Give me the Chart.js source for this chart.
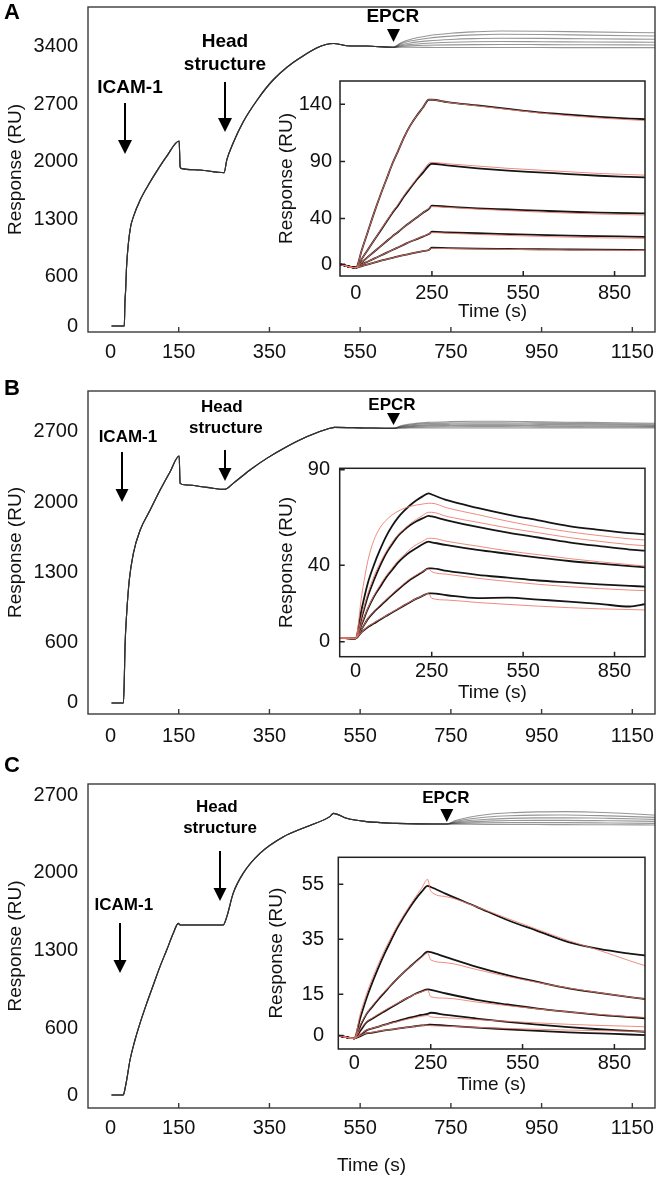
<!DOCTYPE html>
<html>
<head>
<meta charset="utf-8">
<script src="https://cdn.jsdelivr.net/npm/chart.js@4.4.1/dist/chart.umd.min.js"></script>
<style>
  body { margin: 0; background: #fff; width: 660px; height: 1179px; position: relative; overflow: hidden; }
  canvas { position: absolute; }
  .tag { position: absolute; left: 4px; font: bold 22px "Liberation Sans", Arial, sans-serif; line-height: 22px; color: #000; }
</style>
</head>
<body>
<canvas id="mainA" width="660" height="375" style="left:0;top:0"></canvas>
<canvas id="mainB" width="660" height="375" style="left:0;top:380px"></canvas>
<canvas id="mainC" width="660" height="419" style="left:0;top:760px"></canvas>
<canvas id="insetA" width="398" height="260" style="left:262px;top:70px"></canvas>
<canvas id="insetB" width="398" height="260" style="left:262px;top:455px"></canvas>
<canvas id="insetC" width="405" height="260" style="left:255px;top:845px"></canvas>
<div class="tag" style="top:1px">A</div>
<div class="tag" style="top:377px">B</div>
<div class="tag" style="top:754px">C</div>
<script>
const FONT = '"Liberation Sans", Arial, sans-serif';
Chart.defaults.font.family = FONT;
Chart.defaults.color = '#111';

// ---- main sensorgrams: time (s) / response (RU)
const mainXTicks = [0, 150, 350, 550, 750, 950, 1150];
const mainXMarks = [150, 350, 550, 750, 950, 1150];

// panel A
const aTimes = [2, 30, 31.5, 33, 35, 39, 44, 50, 65, 83, 101, 123, 151, 153, 155, 197, 250, 256, 270, 292, 323, 358, 417, 491, 520, 564, 623];
const aResp  = [0, 0, 300, 440, 720, 1005, 1210, 1330, 1535, 1717, 1880, 2062, 2253, 1940, 1920, 1900, 1867, 2022, 2229, 2485, 2753, 2996, 3264, 3441, 3414, 3410, 3394];
const aEpcrTimes = [623, 640, 660, 700, 750, 800, 860, 950, 1050, 1200];
const aEpcr1 = [3394, 3450, 3490, 3535, 3565, 3582, 3593, 3590, 3582, 3572];
const aEpcr2 = [3394, 3438, 3470, 3505, 3530, 3545, 3553, 3550, 3543, 3532];
const aEpcr3 = [3394, 3425, 3447, 3472, 3490, 3500, 3505, 3503, 3498, 3492];
const aEpcr4 = [3394, 3414, 3428, 3444, 3455, 3461, 3464, 3462, 3459, 3456];
const aEpcr5 = [3394, 3404, 3411, 3419, 3424, 3427, 3428, 3427, 3425, 3423];
const aEpcr6 = [3394, 3395, 3394, 3393, 3392, 3392, 3391, 3391, 3390, 3390];
const aYTicks = [0, 600, 1300, 2000, 2700, 3400];

// panel B
const bTimes = [2, 28, 30, 31.6, 35.3, 41, 50, 65, 87, 109, 131, 151, 153, 167, 212, 252, 270, 307, 344, 388, 432, 483, 494, 560, 623];
const bResp  = [0, 0, 229, 561, 893, 1225, 1491, 1723, 1922, 2121, 2304, 2460, 2188, 2171, 2148, 2128, 2188, 2321, 2437, 2553, 2652, 2736, 2746, 2740, 2736];
const bEpcrTimes = [623, 640, 660, 700, 750, 800, 860, 950, 1050, 1200];
const bEpcr1 = [2736, 2762, 2778, 2795, 2803, 2806, 2806, 2800, 2795, 2786];
const bEpcr2 = [2736, 2757, 2770, 2783, 2789, 2792, 2792, 2788, 2783, 2776];
const bEpcr3 = [2736, 2752, 2761, 2771, 2776, 2778, 2778, 2775, 2771, 2766];
const bEpcr4 = [2736, 2747, 2754, 2761, 2764, 2766, 2766, 2763, 2760, 2756];
const bEpcr5 = [2736, 2742, 2746, 2750, 2752, 2753, 2753, 2751, 2750, 2748];
const bEpcr6 = [2736, 2738, 2739, 2740, 2740, 2740, 2740, 2739, 2739, 2739];
const bcYTicks = [0, 600, 1300, 2000, 2700];

// panel C
const cTimes = [2, 28, 29.4, 35.3, 42.6, 53.6, 64.6, 79.4, 94, 108.7, 123.5, 138, 149, 153, 248, 256, 270, 292, 329, 381, 432, 483, 491, 520, 564, 630, 741];
const cResp  = [0, 0, 15, 135, 315, 495, 645, 825, 990, 1155, 1305, 1455, 1545, 1530, 1530, 1605, 1815, 1995, 2175, 2325, 2415, 2505, 2535, 2490, 2460, 2445, 2439];
const cEpcrTimes = [741, 760, 790, 830, 880, 940, 1000, 1100, 1200];
const cEpcr1 = [2439, 2470, 2500, 2525, 2540, 2548, 2550, 2540, 2520];
const cEpcr2 = [2439, 2462, 2484, 2502, 2513, 2519, 2520, 2512, 2499];
const cEpcr3 = [2439, 2455, 2470, 2482, 2490, 2494, 2495, 2490, 2481];
const cEpcr4 = [2439, 2449, 2458, 2465, 2470, 2472, 2472, 2468, 2463];
const cEpcr5 = [2439, 2443, 2447, 2450, 2451, 2451, 2451, 2448, 2445];
const cEpcr6 = [2439, 2438, 2437, 2436, 2435, 2434, 2433, 2432, 2430];

// ---- insets: EPCR binding, black = data, red = fit
const inTimes = [-52, 0, 20, 40, 60, 80, 100, 120, 140, 160, 180, 200, 220, 240, 250, 300, 400, 500, 600, 700, 800, 900, 950];
const inXTicks = [0, 250, 550, 850];
const inXMarks = [250, 550, 850];

const aBlack1 = [0, -3, 13, 29, 45, 60, 74, 88, 100, 112, 122, 130, 137, 144, 144, 142, 139, 136, 133, 131, 129, 127.5, 127];
const aRed1   = [0, -3, 13, 29, 45, 60, 74, 88, 100, 112, 122, 130, 137, 144, 144, 141.8, 138.6, 135.5, 132.5, 130, 128, 126.5, 125.8];
const aBlack2 = [0, -3, 5, 13, 21, 29, 37, 45, 52, 60, 67, 74, 80, 86.5, 88, 86.5, 84, 82, 80.5, 79, 77.5, 76.5, 76];
const aRed2   = [0, -3, 5, 13, 21, 29.5, 37.5, 45.5, 53, 61, 68, 75, 82, 88.5, 89.2, 88, 86, 84, 82.5, 81, 79.5, 78.5, 78];
const aBlack3 = [0, -3, 2, 6.5, 11, 15.5, 20, 24.5, 28.5, 33, 37, 41, 45, 48.5, 51.3, 50.5, 49, 48, 47, 46, 45.3, 44.8, 44.6];
const aRed3   = [0, -3, 2, 6.5, 11, 15.5, 20, 24.5, 28.7, 33, 37, 41, 45, 49, 50.5, 49.8, 48.3, 47, 45.8, 44.8, 44, 43.4, 43.1];
const aBlack4 = [0, -3, 0, 2.5, 5, 7.5, 10, 12.5, 15, 17.5, 20, 22, 24.3, 26.5, 28.5, 28, 27.2, 26.5, 25.8, 25.2, 24.7, 24.3, 24.1];
const aRed4   = [0, -3, 0, 2.5, 5, 7.5, 10, 12.5, 15, 17.5, 20, 22.2, 24.5, 26.8, 27.8, 27.2, 26.2, 25.3, 24.5, 23.8, 23.2, 22.9, 22.7];
const aBlack5 = [0, -3, -1.5, 0, 1.5, 3, 4.3, 5.6, 7, 8.2, 9.4, 10.5, 11.5, 12.5, 14.5, 14.2, 13.8, 13.5, 13.2, 13, 12.8, 12.6, 12.5];
const aRed5   = [0, -3, -1.5, 0, 1.5, 3, 4.3, 5.6, 7, 8.2, 9.4, 10.5, 11.5, 12.7, 14, 13.8, 13.4, 13.1, 12.8, 12.6, 12.4, 12.2, 12.1];
const aInYTicks = [0, 40, 90, 140];

const bBlack1 = [2, 1.8, 17, 30.5, 40, 48, 55, 60.5, 65, 68.5, 71.5, 74, 76, 77.6, 77, 74, 70, 66.5, 63.5, 60.5, 58.5, 56.8, 56.2];
const bRed1   = [2, 1.8, 24, 42, 53, 59.5, 63.5, 66.3, 68.3, 69.8, 70.8, 71.5, 72, 72.4, 72.4, 70, 66.5, 63, 60, 57.5, 55.5, 53.8, 53.2];
const bBlack2 = [2, 1.8, 12.5, 23.5, 32, 39.5, 46, 51, 55.5, 58.5, 61, 63, 64.5, 65.8, 65.5, 63.5, 60, 57, 54.5, 52, 50, 48.2, 47.6];
const bRed2   = [2, 1.8, 13.5, 25, 34, 41, 47, 52, 56, 59, 61.8, 64, 66, 67.7, 67.7, 65.5, 62.5, 59.5, 57, 54.5, 52.5, 50.8, 50.2];
const bBlack3 = [2, 1.8, 9, 17, 23.5, 28.5, 33.5, 37.5, 41.5, 44.5, 47, 49, 51, 52.3, 52, 50.5, 48, 46, 44, 42.2, 40.8, 39.5, 38.9];
const bRed3   = [2, 1.8, 9.5, 17.5, 24, 29.5, 34.5, 38.5, 42.5, 45.5, 48.5, 50.8, 52.5, 54.1, 54.1, 52.5, 50, 47.5, 45.5, 43.5, 41.8, 40.3, 39.6];
const bBlack4 = [2, 1.8, 6.5, 11.8, 15.5, 18.5, 21.5, 24.5, 27.3, 30, 32.5, 34.5, 36.5, 38.4, 38.4, 37, 35, 33.5, 32, 31, 30, 29.2, 28.8];
const bRed4   = [2, 1.8, 6.5, 12, 15.8, 19, 22, 25, 27.8, 30.5, 33, 35, 36.8, 38, 36.6, 35.3, 33.2, 31.5, 30, 28.8, 27.8, 27, 26.7];
const bBlack5 = [2, 1.8, 5, 7.6, 9.5, 11.5, 13.4, 15.3, 17.1, 19, 20.8, 22.5, 24, 25.3, 25.3, 24.3, 22.8, 23, 22, 21, 19.8, 18.4, 19.6];
const bRed5   = [2, 1.8, 5, 7.8, 9.8, 11.8, 13.6, 15.5, 17.3, 19.2, 21, 22.6, 24, 25.3, 22.7, 21.8, 20.5, 19.5, 18.6, 17.8, 17.2, 16.8, 16.6];
const bInYTicks = [0, 40, 90];

const cBlack1 = [0, -1, 6.5, 13.5, 19.5, 25, 30, 34.5, 39, 42.8, 46.3, 49.5, 52.2, 54.4, 54, 51.5, 46.8, 42, 38, 34, 31.5, 29.8, 29.1];
const cRed1   = [0, -1, 8, 15, 21, 26.3, 31.2, 35.6, 39.7, 43.5, 47, 50.3, 53.5, 56.8, 52.5, 50.5, 46.8, 42.6, 38.5, 34.5, 31, 27.2, 25.4];
const cBlack2 = [0, -1, 3.5, 7.8, 10.6, 13.3, 15.8, 18.3, 20.6, 22.8, 24.8, 26.8, 28.7, 30.5, 30.3, 28.5, 25, 22, 19.5, 17.2, 15.5, 14, 13.3];
const cRed2   = [0, -1, 4, 8, 11, 13.7, 16.1, 18.5, 20.7, 22.8, 24.8, 26.6, 28.4, 30, 27.5, 26.5, 24, 21.5, 19.3, 17.3, 15.6, 14, 13.3];
const cBlack3 = [0, -1, 1.8, 4.8, 6.2, 7.6, 8.9, 10.2, 11.5, 12.8, 14, 15.2, 16.1, 16.8, 16.6, 15.3, 13, 11.3, 9.8, 8.6, 7.5, 6.7, 6.3];
const cRed3   = [0, -1, 2.3, 5, 6.5, 7.9, 9.2, 10.5, 11.7, 12.9, 14, 15.1, 15.9, 16.5, 14.1, 13.6, 12.2, 10.9, 9.7, 8.6, 7.7, 6.9, 6.6];
const cBlack4 = [0, -1, 0.2, 1.9, 2.6, 3.3, 4, 4.6, 5.3, 5.9, 6.5, 7, 7.5, 7.9, 8.3, 7.5, 6.2, 5, 4, 3.1, 2.3, 1.7, 1.4];
const cRed4   = [0, -1, 0.5, 2, 2.7, 3.3, 3.9, 4.5, 5, 5.6, 6.1, 6.6, 7, 7.3, 6.8, 6.5, 5.8, 5.2, 4.6, 4.1, 3.7, 3.4, 3.2];
const cBlack5 = [0, -1, -0.2, 0.8, 1.1, 1.5, 1.9, 2.2, 2.5, 2.8, 3.1, 3.4, 3.7, 3.9, 4, 3.6, 2.9, 2.3, 1.7, 1.2, 0.8, 0.4, 0.2];
const cRed5   = [0, -1, 0, 0.9, 1.2, 1.6, 1.9, 2.2, 2.5, 2.8, 3.1, 3.4, 3.6, 3.8, 3.6, 3.4, 3, 2.6, 2.3, 2, 1.8, 1.6, 1.5];
const cInYTicks = [0, 15, 35, 55];

function pts(ts, vs) { return ts.map((t, i) => ({ x: t, y: vs[i] })); }

// box round the plot, short inward tick marks, white plot background
const frame = {
  id: 'frame',
  beforeDraw(chart, args, o) {
    const { ctx, chartArea: a } = chart;
    ctx.save();
    ctx.fillStyle = '#fff';
    ctx.fillRect(a.left, a.top, a.right - a.left, a.bottom - a.top);
    ctx.restore();
  },
  afterDraw(chart, args, o) {
    const { ctx, chartArea: a, scales: { x, y } } = chart;
    ctx.save();
    ctx.strokeStyle = o.color;
    ctx.lineWidth = o.width;
    ctx.strokeRect(a.left, a.top, a.right - a.left, a.bottom - a.top);
    ctx.beginPath();
    o.xMarks.forEach(v => { const p = x.getPixelForValue(v); ctx.moveTo(p, a.bottom); ctx.lineTo(p, a.bottom - o.len); });
    o.yMarks.forEach(v => { const p = y.getPixelForValue(v); ctx.moveTo(a.left, p); ctx.lineTo(a.left + o.len, p); });
    ctx.stroke();
    ctx.restore();
  }
};

// injection labels and arrows, placed in data units
const notes = {
  id: 'notes',
  afterDatasetsDraw(chart, args, o) {
    if (!o.labels) return;
    const { ctx, scales: { x, y } } = chart;
    ctx.save();
    ctx.fillStyle = '#000';
    ctx.strokeStyle = '#000';
    ctx.font = 'bold ' + o.size + 'px ' + FONT;
    ctx.textAlign = 'center';
    ctx.textBaseline = 'middle';
    o.labels.forEach(([txt, t, v]) => ctx.fillText(txt, x.getPixelForValue(t), y.getPixelForValue(v)));
    ctx.lineWidth = 2;
    o.arrows.forEach(([t, v1, v2]) => {
      const px = x.getPixelForValue(t), y1 = y.getPixelForValue(v1), y2 = y.getPixelForValue(v2);
      ctx.beginPath(); ctx.moveTo(px, y1); ctx.lineTo(px, y2 - o.head + 2); ctx.stroke();
      ctx.beginPath(); ctx.moveTo(px - o.head / 2, y2 - o.head); ctx.lineTo(px + o.head / 2, y2 - o.head); ctx.lineTo(px, y2); ctx.closePath(); ctx.fill();
    });
    const [tt, vTop, vTip] = o.tri;
    const px = x.getPixelForValue(tt), yt = y.getPixelForValue(vTop), yb = y.getPixelForValue(vTip);
    ctx.beginPath(); ctx.moveTo(px - 6.5, yt); ctx.lineTo(px + 6.5, yt); ctx.lineTo(px, yb); ctx.closePath(); ctx.fill();
    ctx.restore();
  }
};

function fixedTicks(list) {
  return s => { s.ticks = list.map(v => ({ value: v })); };
}

const noGrid = { display: false, drawTicks: false };

function mainChart(id, c) {
  const curves = c.epcr.map(vals => ({
    data: pts(c.times.slice(0, -1).concat(c.epcrTimes), c.resp.slice(0, -1).concat(vals)),
    borderColor: 'rgba(45,45,45,0.5)',
    borderWidth: 1.1,
    pointRadius: 0,
    cubicInterpolationMode: 'monotone'
  }));
  new Chart(document.getElementById(id), {
    type: 'line',
    data: { datasets: curves },
    plugins: [frame, notes],
    options: {
      responsive: false, animation: false, devicePixelRatio: 1,
      layout: { padding: { left: 0, right: 5, top: c.top, bottom: 0 } },
      plugins: {
        legend: { display: false }, tooltip: { enabled: false },
        frame: { color: '#3a3a3a', width: 1.4, len: 5, xMarks: mainXMarks, yMarks: [] },
        notes: c.notes
      },
      scales: {
        x: {
          type: 'linear', min: -50, max: 1200,
          grid: noGrid, border: { display: false },
          afterBuildTicks: fixedTicks(mainXTicks),
          afterFit: s => { s.height = c.xHeight; s.paddingLeft = 0; s.paddingRight = 0; },
          ticks: { autoSkip: false, maxRotation: 0, padding: c.xPad, font: { size: 20 }, callback: v => String(v) },
          title: { display: c.xTitle, text: 'Time (s)', font: { size: 19 }, padding: { top: 0, bottom: 2 } }
        },
        y: {
          min: c.yMin, max: c.yMax,
          grid: noGrid, border: { display: false },
          afterBuildTicks: fixedTicks(c.yTicks),
          afterFit: s => { s.width = 88; s.paddingTop = 0; s.paddingBottom = 0; },
          ticks: { padding: 10, font: { size: 20 }, callback: v => String(v) },
          title: { display: true, text: 'Response (RU)', font: { size: 19 }, padding: { top: 4, bottom: 0 } }
        }
      }
    }
  });
}

function insetChart(id, c) {
  const sets = [];
  c.black.forEach(vals => sets.push({ data: pts(inTimes, vals), borderColor: '#151515', borderWidth: 1.8, pointRadius: 0, order: 1, cubicInterpolationMode: 'monotone' }));
  c.red.forEach(vals => sets.push({ data: pts(inTimes, vals), borderColor: 'rgba(235,120,105,0.85)', borderWidth: 1, pointRadius: 0, order: 0, cubicInterpolationMode: 'monotone' }));
  new Chart(document.getElementById(id), {
    type: 'line',
    data: { datasets: sets },
    plugins: [frame],
    options: {
      responsive: false, animation: false, devicePixelRatio: 1,
      layout: { padding: { left: 0, right: c.right, top: c.top, bottom: 0 } },
      plugins: {
        legend: { display: false }, tooltip: { enabled: false },
        frame: { color: '#222', width: 1.5, len: 5, xMarks: inXMarks, yMarks: c.yTicks }
      },
      scales: {
        x: {
          type: 'linear', min: -52, max: 950,
          grid: noGrid, border: { display: false },
          afterBuildTicks: fixedTicks(inXTicks),
          afterFit: s => { s.height = c.xHeight; s.paddingLeft = 0; s.paddingRight = 0; },
          ticks: { autoSkip: false, maxRotation: 0, padding: c.xPad, font: { size: 20 }, callback: v => String(v) },
          title: { display: true, text: 'Time (s)', font: { size: 19 }, padding: { top: 0, bottom: c.titlePad } }
        },
        y: {
          min: c.yMin, max: c.yMax,
          grid: noGrid, border: { display: false },
          afterBuildTicks: fixedTicks(c.yTicks),
          afterFit: s => { s.width = c.yWidth; s.paddingTop = 0; s.paddingBottom = 0; },
          ticks: { padding: c.yPad, font: { size: 20 }, callback: v => String(v) },
          title: { display: true, text: 'Response (RU)', font: { size: 19 }, padding: { top: c.yTitlePad, bottom: 0 } }
        }
      }
    }
  });
}

mainChart('mainA', {
  times: aTimes, resp: aResp, epcrTimes: aEpcrTimes,
  epcr: [aEpcr1, aEpcr2, aEpcr3, aEpcr4, aEpcr5, aEpcr6],
  yMin: -73, yMax: 3885, yTicks: aYTicks, top: 7, xHeight: 43, xTitle: false, xPad: 8,
  notes: {
    size: 19, head: 14,
    labels: [['ICAM-1', 42.6, 2899], ['Head', 252, 3459], ['structure', 252, 3179], ['EPCR', 622, 3764]],
    arrows: [[31.6, 2716, 2095], [252, 2972, 2363]],
    tri: [623.5, 3617, 3459]
  }
});

mainChart('mainB', {
  times: bTimes, resp: bResp, epcrTimes: bEpcrTimes,
  epcr: [bEpcr1, bEpcr2, bEpcr3, bEpcr4, bEpcr5, bEpcr6],
  yMin: -110, yMax: 3108, yTicks: bcYTicks, top: 11, xHeight: 41, xTitle: false, xPad: 10,
  notes: {
    size: 17, head: 13,
    labels: [['ICAM-1', 38, 2649], ['Head', 245, 2948], ['structure', 254, 2739], ['EPCR', 620, 2968]],
    arrows: [[25, 2500, 2002], [252, 2520, 2211]],
    tri: [623.5, 2888, 2769]
  }
});

mainChart('mainC', {
  times: cTimes, resp: cResp, epcrTimes: cEpcrTimes,
  epcr: [cEpcr1, cEpcr2, cEpcr3, cEpcr4, cEpcr5, cEpcr6],
  yMin: -117, yMax: 2799, yTicks: bcYTicks, top: 24, xHeight: 71, xTitle: true, xPad: 8,
  notes: {
    size: 17, head: 13,
    labels: [['ICAM-1', 29, 1710], ['Head', 234, 2592], ['structure', 241, 2403], ['EPCR', 739, 2673]],
    arrows: [[20.5, 1548, 1098], [241, 2196, 1746]],
    tri: [741, 2574, 2457]
  }
});

insetChart('insetA', {
  black: [aBlack1, aBlack2, aBlack3, aBlack4, aBlack5],
  red: [aRed1, aRed2, aRed3, aRed4, aRed5],
  yMin: -10.2, yMax: 160.4, yTicks: aInYTicks,
  top: 11, right: 15, xHeight: 54, yWidth: 78, yPad: 8, yTitlePad: 13.6, xPad: 5, titlePad: 6.6
});

insetChart('insetB', {
  black: [bBlack1, bBlack2, bBlack3, bBlack4, bBlack5],
  red: [bRed1, bRed2, bRed3, bRed4, bRed5],
  yMin: -7.85, yMax: 90.7, yTicks: bInYTicks,
  top: 13.3, right: 15, xHeight: 58.3, yWidth: 77.7, yPad: 9.7, yTitlePad: 13.6, xPad: 3, titlePad: 10.6
});

insetChart('insetC', {
  black: [cBlack1, cBlack2, cBlack3, cBlack4, cBlack5],
  red: [cRed1, cRed2, cRed3, cRed4, cRed5],
  yMin: -4.87, yMax: 64.8, yTicks: cInYTicks,
  top: 12.3, right: 15, xHeight: 56, yWidth: 83.3, yPad: 14.3, yTitlePad: 10.6, xPad: 2, titlePad: 8.6
});
</script>
</body>
</html>
